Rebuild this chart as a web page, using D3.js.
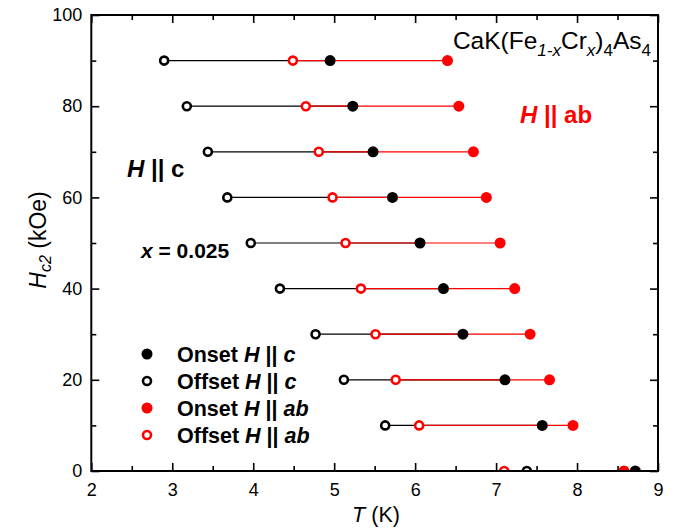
<!DOCTYPE html>
<html>
<head>
<meta charset="utf-8">
<script src="https://cdn.jsdelivr.net/npm/d3@7"></script>
<style>
  html, body { margin: 0; padding: 0; background: #fff; }
  svg { display: block; font-family: "Liberation Sans", Arial, sans-serif; }
</style>
</head>
<body>
<svg id="chart" width="674" height="531"></svg>
<script>
// Upper critical field H_c2 vs temperature, onset/offset for both field orientations
const fields = [90, 80, 70, 60, 50, 40, 30, 20, 10, 0];
const onsetC = [4.95, 5.23, 5.48, 5.72, 6.06, 6.35, 6.59, 7.11, 7.57, 8.72];
const offsetC = [2.90, 3.18, 3.44, 3.68, 3.97, 4.33, 4.77, 5.12, 5.63, 7.38];
const onsetAB = [6.40, 6.54, 6.72, 6.88, 7.05, 7.23, 7.42, 7.66, 7.95, 8.58];
const offsetAB = [4.49, 4.65, 4.81, 4.98, 5.14, 5.33, 5.51, 5.76, 6.05, 7.10];

const xMajor = [2, 3, 4, 5, 6, 7, 8, 9];
const xMinor = [2.5, 3.5, 4.5, 5.5, 6.5, 7.5, 8.5];
const yMajor = [0, 20, 40, 60, 80, 100];
const yMinor = [10, 30, 50, 70, 90];

const RED = "#ff0000";
const BLACK = "#000000";

const svg = d3.select("#chart");
const pLeft = 91.3, pRight = 658, pTop = 15, pBottom = 471;
const x = d3.scaleLinear().domain([2, 9]).range([pLeft, pRight]);
const y = d3.scaleLinear().domain([0, 100]).range([pBottom, pTop]);

// clip marks to the plot frame
svg.append("defs").append("clipPath").attr("id", "plotClip")
  .append("rect").attr("x", pLeft).attr("y", pTop)
  .attr("width", pRight - pLeft).attr("height", pBottom - pTop);

// axes: inward ticks on all four sides
function styleAxis(g) {
  g.select(".domain").remove();
  g.selectAll(".tick line").attr("stroke", BLACK).attr("stroke-width", 1.6);
  g.selectAll(".tick text").attr("fill", BLACK).attr("font-size", 18)
    .attr("font-family", "Liberation Sans, Arial, sans-serif");
}
svg.append("g").attr("transform", `translate(0,${pBottom})`)
  .call(d3.axisBottom(x).tickValues(xMajor).tickSize(-8).tickSizeOuter(0).tickPadding(12).tickFormat(d3.format("d")))
  .call(styleAxis);
svg.append("g").attr("transform", `translate(0,${pBottom})`)
  .call(d3.axisBottom(x).tickValues(xMinor).tickSize(-5).tickSizeOuter(0).tickFormat(""))
  .call(styleAxis);
svg.append("g").attr("transform", `translate(0,${pTop})`)
  .call(d3.axisTop(x).tickValues(xMajor).tickSize(-8).tickSizeOuter(0).tickFormat(""))
  .call(styleAxis);
svg.append("g").attr("transform", `translate(0,${pTop})`)
  .call(d3.axisTop(x).tickValues(xMinor).tickSize(-5).tickSizeOuter(0).tickFormat(""))
  .call(styleAxis);
svg.append("g").attr("transform", `translate(${pLeft},0)`)
  .call(d3.axisLeft(y).tickValues(yMajor).tickSize(-8).tickSizeOuter(0).tickPadding(9).tickFormat(d3.format("d")))
  .call(styleAxis);
svg.append("g").attr("transform", `translate(${pLeft},0)`)
  .call(d3.axisLeft(y).tickValues(yMinor).tickSize(-5).tickSizeOuter(0).tickFormat(""))
  .call(styleAxis);
svg.append("g").attr("transform", `translate(${pRight},0)`)
  .call(d3.axisRight(y).tickValues(yMajor).tickSize(-8).tickSizeOuter(0).tickFormat(""))
  .call(styleAxis);
svg.append("g").attr("transform", `translate(${pRight},0)`)
  .call(d3.axisRight(y).tickValues(yMinor).tickSize(-5).tickSizeOuter(0).tickFormat(""))
  .call(styleAxis);

// data
const rows = fields.map((h, i) => ({
  h, onC: onsetC[i], offC: offsetC[i], onAB: onsetAB[i], offAB: offsetAB[i]
}));

const plot = svg.append("g").attr("clip-path", "url(#plotClip)");

// transition-width segments
plot.append("g").selectAll("line").data(rows).join("line")
  .attr("x1", d => x(d.offC)).attr("x2", d => x(d.onC))
  .attr("y1", d => y(d.h)).attr("y2", d => y(d.h))
  .attr("stroke", BLACK).attr("stroke-width", 1.2);
plot.append("g").selectAll("line").data(rows).join("line")
  .attr("x1", d => x(d.offAB)).attr("x2", d => x(d.onAB))
  .attr("y1", d => y(d.h)).attr("y2", d => y(d.h))
  .attr("stroke", RED).attr("stroke-width", 1.2);

function openMarks(g, key, color) {
  g.selectAll("circle").data(rows).join("circle")
    .attr("cx", d => x(d[key])).attr("cy", d => y(d.h)).attr("r", 4)
    .attr("fill", "#fff").attr("stroke", color).attr("stroke-width", 2.6);
}
function filledMarks(g, key, color) {
  g.selectAll("circle").data(rows).join("circle")
    .attr("cx", d => x(d[key])).attr("cy", d => y(d.h)).attr("r", 5.5)
    .attr("fill", color);
}
openMarks(plot.append("g"), "offC", BLACK);
openMarks(plot.append("g"), "offAB", RED);
filledMarks(plot.append("g"), "onC", BLACK);
filledMarks(plot.append("g"), "onAB", RED);

// frame
svg.append("rect").attr("x", pLeft).attr("y", pTop)
  .attr("width", pRight - pLeft).attr("height", pBottom - pTop)
  .attr("fill", "none").attr("stroke", BLACK).attr("stroke-width", 2);

// axis titles
const xt = svg.append("text").attr("x", 376).attr("y", 522)
  .attr("text-anchor", "middle").attr("font-size", 21.5);
xt.append("tspan").attr("font-style", "italic").text("T");
xt.append("tspan").text(" (K)");

const yt = svg.append("text").attr("transform", "translate(46,240) rotate(-90)")
  .attr("text-anchor", "middle").attr("font-size", 23);
yt.append("tspan").attr("font-style", "italic").text("H");
yt.append("tspan").attr("font-style", "italic").attr("font-size", 16).attr("dy", 5).text("c2");
yt.append("tspan").attr("dy", -5).text(" (kOe)");

// compound formula
const f = svg.append("text").attr("x", 651).attr("y", 49)
  .attr("text-anchor", "end").attr("font-size", 24.5);
f.append("tspan").text("CaK(Fe");
f.append("tspan").attr("font-size", 17).attr("font-style", "italic").attr("dy", 7).text("1-x");
f.append("tspan").attr("dy", -7).text("Cr");
f.append("tspan").attr("font-size", 17).attr("font-style", "italic").attr("dy", 7).text("x");
f.append("tspan").attr("dy", -7).text(")");
f.append("tspan").attr("font-size", 17).attr("dy", 7).text("4");
f.append("tspan").attr("dy", -7).text("As");
f.append("tspan").attr("font-size", 17).attr("dy", 7).text("4");

// orientation labels
const hab = svg.append("text").attr("x", 520).attr("y", 123)
  .attr("font-size", 24).attr("font-weight", "bold").attr("fill", RED);
hab.append("tspan").attr("font-style", "italic").text("H");
hab.append("tspan").text(" || ab");

const hc = svg.append("text").attr("x", 127).attr("y", 177)
  .attr("font-size", 24).attr("font-weight", "bold").attr("fill", BLACK);
hc.append("tspan").attr("font-style", "italic").text("H");
hc.append("tspan").text(" || c");

const xc = svg.append("text").attr("x", 141).attr("y", 258)
  .attr("font-size", 21).attr("font-weight", "bold").attr("fill", BLACK);
xc.append("tspan").attr("font-style", "italic").text("x");
xc.append("tspan").text(" = 0.025");

// legend
const legendItems = [
  { label: "Onset", dir: "c", color: BLACK, filled: true },
  { label: "Offset", dir: "c", color: BLACK, filled: false },
  { label: "Onset", dir: "ab", color: RED, filled: true },
  { label: "Offset", dir: "ab", color: RED, filled: false }
];
const legendY = [354, 381, 408, 435];
const lg = svg.append("g");
legendItems.forEach((it, i) => {
  const cy = legendY[i];
  if (it.filled) {
    lg.append("circle").attr("cx", 147).attr("cy", cy).attr("r", 5.5).attr("fill", it.color);
  } else {
    lg.append("circle").attr("cx", 147).attr("cy", cy).attr("r", 4)
      .attr("fill", "#fff").attr("stroke", it.color).attr("stroke-width", 2.6);
  }
  const t = lg.append("text").attr("x", 177).attr("y", cy + 7.5)
    .attr("font-size", 21.5).attr("font-weight", "bold").attr("fill", BLACK);
  t.append("tspan").text(it.label + " ");
  t.append("tspan").attr("font-style", "italic").text("H");
  t.append("tspan").text(" || ");
  t.append("tspan").attr("font-style", "italic").text(it.dir);
});
</script>
</body>
</html>
